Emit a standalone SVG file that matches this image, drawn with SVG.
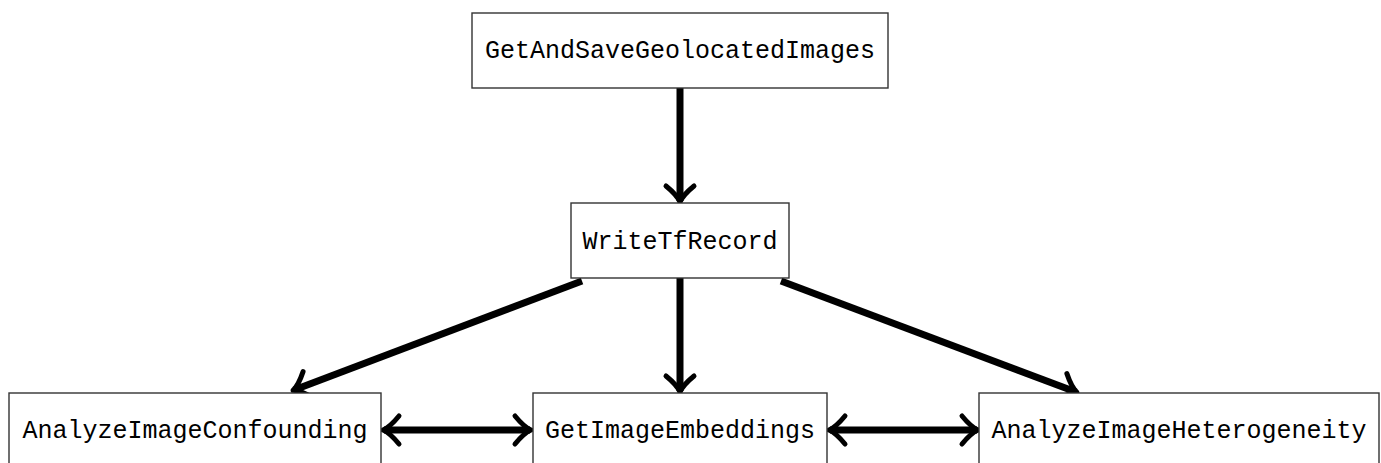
<svg xmlns="http://www.w3.org/2000/svg" width="1381" height="463" viewBox="0 0 1381 463">
<style>
.box{fill:#fff;stroke:#333;stroke-width:1.4}
.lbl{font-family:"Liberation Mono","DejaVu Sans Mono",monospace;font-size:25px;fill:#000;text-anchor:middle}
.edge{stroke:#000;stroke-width:7;fill:none}
</style>
<defs>
<marker id="ah" markerUnits="userSpaceOnUse" markerWidth="40" markerHeight="40" refX="0" refY="0" orient="auto-start-reverse" overflow="visible">
<path d="M -15,-14 Q -6,-3 1,0 Q -6,3 -15,14" fill="none" stroke="#000" stroke-width="5" stroke-linecap="round" stroke-linejoin="round"/>
</marker>
</defs>
<g id="connectors">
<line class="edge" x1="680" y1="88" x2="680" y2="201" marker-end="url(#ah)"/>
<line class="edge" x1="582" y1="281" x2="294" y2="390" marker-end="url(#ah)"/>
<line class="edge" x1="680" y1="278" x2="680" y2="391" marker-end="url(#ah)"/>
<line class="edge" x1="781" y1="281" x2="1076" y2="392" marker-end="url(#ah)"/>
<line class="edge" x1="384" y1="430" x2="530" y2="430" marker-start="url(#ah)" marker-end="url(#ah)"/>
<line class="edge" x1="830" y1="430" x2="977" y2="430" marker-start="url(#ah)" marker-end="url(#ah)"/>
</g>
<g id="GetAndSaveGeolocatedImages">
<rect class="box" x="472" y="13" width="416" height="75"/>
<text class="lbl" x="680" y="58">GetAndSaveGeolocatedImages</text>
</g>
<g id="WriteTfRecord">
<rect class="box" x="571" y="203" width="218" height="75"/>
<text class="lbl" x="680" y="249">WriteTfRecord</text>
</g>
<g id="AnalyzeImageConfounding">
<rect class="box" x="9" y="393" width="372" height="75"/>
<text class="lbl" x="195" y="438">AnalyzeImageConfounding</text>
</g>
<g id="GetImageEmbeddings">
<rect class="box" x="533" y="393" width="294" height="75"/>
<text class="lbl" x="680" y="438">GetImageEmbeddings</text>
</g>
<g id="AnalyzeImageHeterogeneity">
<rect class="box" x="979" y="393" width="400" height="75"/>
<text class="lbl" x="1179" y="438">AnalyzeImageHeterogeneity</text>
</g>
</svg>
